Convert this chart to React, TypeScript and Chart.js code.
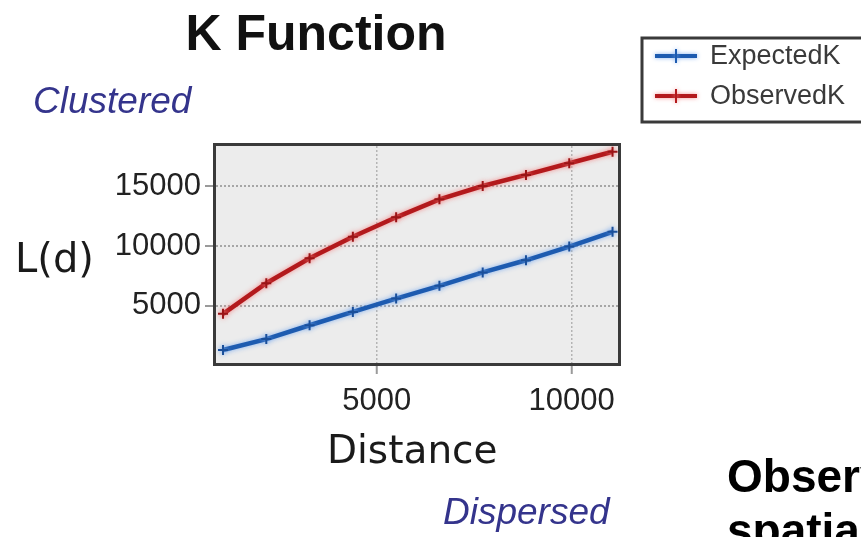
import { useEffect, useRef } from "react";
import { Chart, registerables } from "chart.js";

Chart.register(...registerables);

// Distance bands (x) and the two L(d) curves
const distance = [1060, 2170, 3280, 4390, 5500, 6610, 7720, 8830, 9940, 11050];
const expectedK = [1260, 2180, 3340, 4460, 5580, 6650, 7780, 8800, 9950, 11190];
const observedK = [4300, 6870, 8970, 10780, 12410, 13920, 15040, 15970, 16950, 17920];

const seriesNames = ["ExpectedK", "ObservedK"];
const xTickValues = [5000, 10000];
const yTickValues = [5000, 10000, 15000];
const xRange = [880, 11190];
const yRange = [170, 18400];

const titleText = "K Function";
const yAxisTitle = "L(d)";
const xAxisTitle = "Distance";
const upperNote = "Clustered";
const lowerNote = "Dispersed";
const sideLines = ["Observed K > Expected K", "spatial clustering"];

const SANS = "'Liberation Sans', Arial, sans-serif";
const VERDANA = "'DejaVu Sans', Verdana, sans-serif";

const BLUE = "#1d5bb0";
const BLUE_HALO = "rgba(120,170,240,0.9)";
const RED = "#b3191c";
const RED_HALO = "rgba(245,130,130,0.9)";

const decor = {
  id: "decor",
  beforeDraw(chart: any) {
    const { ctx, chartArea: a, width, height } = chart;
    ctx.save();
    ctx.fillStyle = "#ffffff";
    ctx.fillRect(0, 0, width, height);
    ctx.fillStyle = "#ececec";
    ctx.fillRect(a.left, a.top, a.right - a.left, a.bottom - a.top);
    ctx.restore();
  },
  beforeDatasetDraw(chart: any, args: any) {
    const ds = chart.data.datasets[args.index];
    chart.ctx.save();
    chart.ctx.shadowColor = ds.haloColor;
    chart.ctx.shadowBlur = 5;
  },
  afterDatasetDraw(chart: any) {
    chart.ctx.restore();
  },
  afterDraw(chart: any) {
    const { ctx, chartArea: a } = chart;
    ctx.save();

    // plot frame
    ctx.strokeStyle = "#3a3a3a";
    ctx.lineWidth = 3;
    ctx.strokeRect(a.left - 1.5, a.top - 1.5, a.right - a.left + 3, a.bottom - a.top + 3);

    // title
    ctx.fillStyle = "#111";
    ctx.textBaseline = "alphabetic";
    ctx.textAlign = "center";
    ctx.font = `bold 50px ${SANS}`;
    ctx.fillText(titleText, 316, 50);

    // axis titles
    ctx.textAlign = "left";
    ctx.fillStyle = "#1a1a1a";
    ctx.font = `40px ${VERDANA}`;
    ctx.fillText(yAxisTitle, 15, 272);
    ctx.font = `39px ${VERDANA}`;
    ctx.fillText(xAxisTitle, 327, 463);

    // clustered / dispersed notes
    ctx.fillStyle = "#34348c";
    ctx.font = `italic 37px ${SANS}`;
    ctx.fillText(upperNote, 33, 113);
    ctx.fillText(lowerNote, 443, 524);

    // legend
    ctx.fillStyle = "#ffffff";
    ctx.fillRect(642, 38, 240, 84);
    ctx.strokeStyle = "#3a3a3a";
    ctx.lineWidth = 3;
    ctx.strokeRect(642, 38, 240, 84);
    const rows = [56, 96];
    chart.data.datasets.forEach((ds: any, i: number) => {
      const y = rows[i];
      ctx.save();
      ctx.shadowColor = ds.haloColor;
      ctx.shadowBlur = 4;
      ctx.strokeStyle = ds.borderColor;
      ctx.lineWidth = 4;
      ctx.beginPath();
      ctx.moveTo(655, y);
      ctx.lineTo(697, y);
      ctx.stroke();
      ctx.lineWidth = 2;
      ctx.beginPath();
      ctx.moveTo(676, y - 7);
      ctx.lineTo(676, y + 7);
      ctx.stroke();
      ctx.restore();
      ctx.fillStyle = "#3a3a3a";
      ctx.font = `27px ${SANS}`;
      ctx.textBaseline = "middle";
      ctx.fillText(ds.label, 710, y + 1);
    });

    // side caption
    ctx.textBaseline = "alphabetic";
    ctx.fillStyle = "#000";
    ctx.font = `bold 46px ${SANS}`;
    ctx.fillText(sideLines[0], 727, 492);
    ctx.fillText(sideLines[1], 727, 546);

    ctx.restore();
  },
};

export default function App() {
  const ref = useRef<HTMLCanvasElement>(null);

  useEffect(() => {
    const canvas = ref.current;
    if (!canvas) return;
    const chart = new Chart(canvas, {
      type: "line",
      data: {
        datasets: [
          {
            label: seriesNames[0],
            data: distance.map((d, i) => ({ x: d, y: expectedK[i] })),
            borderColor: BLUE,
            haloColor: BLUE_HALO,
            borderWidth: 4.5,
            pointStyle: "cross",
            pointRadius: 5,
            pointBorderWidth: 2,
            pointBorderColor: "#1a4f9a",
            pointBackgroundColor: BLUE,
            tension: 0,
          } as any,
          {
            label: seriesNames[1],
            data: distance.map((d, i) => ({ x: d, y: observedK[i] })),
            borderColor: RED,
            haloColor: RED_HALO,
            borderWidth: 4.5,
            pointStyle: "cross",
            pointRadius: 5,
            pointBorderWidth: 2,
            pointBorderColor: "#9a1416",
            pointBackgroundColor: RED,
            tension: 0,
          } as any,
        ],
      },
      options: {
        responsive: false,
        animation: false,
        events: [],
        layout: { padding: { top: 146, right: 243, left: 0, bottom: 0 } },
        plugins: {
          legend: { display: false },
          title: { display: false },
          tooltip: { enabled: false },
        },
        scales: {
          x: {
            type: "linear",
            min: xRange[0],
            max: xRange[1],
            afterBuildTicks: (s: any) => {
              s.ticks = xTickValues.map((value) => ({ value }));
            },
            afterFit: (s: any) => {
              s.height = 174;
            },
            ticks: {
              font: { family: SANS, size: 31 },
              color: "#222",
              padding: 9,
              maxRotation: 0,
              autoSkip: false,
              callback: (v: any) => String(v),
            },
            grid: {
              color: "#b4b4b4",
              lineWidth: 1.5,
              tickLength: 11,
              tickColor: "#9a9a9a",
              tickWidth: 2,
              tickBorderDash: [],
            },
            border: { display: false, dash: [2, 2] },
          },
          y: {
            type: "linear",
            min: yRange[0],
            max: yRange[1],
            afterBuildTicks: (s: any) => {
              s.ticks = yTickValues.map((value) => ({ value }));
            },
            afterFit: (s: any) => {
              s.width = 216;
            },
            ticks: {
              font: { family: SANS, size: 31 },
              color: "#222",
              padding: 4,
              autoSkip: false,
              callback: (v: any) => String(v),
            },
            grid: {
              color: "#a6a6a6",
              lineWidth: 2,
              tickLength: 11,
              tickColor: "#9a9a9a",
              tickWidth: 2,
              tickBorderDash: [],
            },
            border: { display: false, dash: [2, 2] },
          },
        },
      },
      plugins: [decor],
    });
    return () => chart.destroy();
  }, []);

  return (
    <div style={{ position: "absolute", left: 0, top: 0, width: 861, height: 537, overflow: "hidden", background: "#fff" }}>
      <canvas ref={ref} width={861} height={537} style={{ display: "block", width: 861, height: 537 }} />
    </div>
  );
}
